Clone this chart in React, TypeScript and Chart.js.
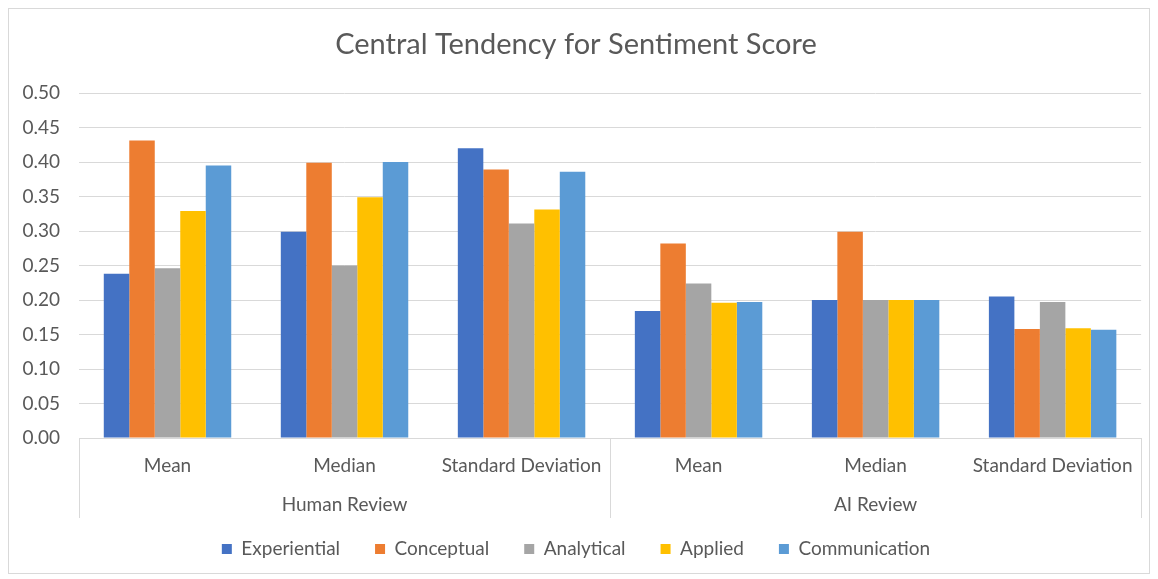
import React, { useEffect, useRef } from "react";
import { Chart, registerables } from "chart.js";

Chart.register(...registerables);

const categories = ["Mean", "Median", "Standard Deviation", "Mean", "Median", "Standard Deviation"];
const groups = ["Human Review", "AI Review"];
const groupSize = 3;
const yTicks = [0, 0.05, 0.1, 0.15, 0.2, 0.25, 0.3, 0.35, 0.4, 0.45, 0.5];

const experiential = [0.238, 0.299, 0.42, 0.184, 0.2, 0.205];
const conceptual = [0.431, 0.399, 0.389, 0.282, 0.299, 0.158];
const analytical = [0.246, 0.25, 0.311, 0.224, 0.2, 0.197];
const applied = [0.329, 0.349, 0.331, 0.196, 0.2, 0.159];
const communication = [0.395, 0.4, 0.386, 0.197, 0.2, 0.157];

const seriesNames = ["Experiential", "Conceptual", "Analytical", "Applied", "Communication"];
const seriesValues = [experiential, conceptual, analytical, applied, communication];
const seriesColors = ["#4472C4", "#ED7D31", "#A5A5A5", "#FFC000", "#5B9BD5"];

const FONT = "Lato, 'Open Sans', sans-serif";
const TEXT = "#595959";
const GRID = "#d9d9d9";

const groupPlugin = {
  id: "groupLabels",
  afterDraw(chart: any) {
    const { ctx, chartArea } = chart;
    const x = chart.scales.x;
    const bottom = chartArea.bottom;
    const sepLen = 80;
    ctx.save();
    ctx.strokeStyle = GRID;
    ctx.lineWidth = 1;
    const bounds: number[] = [x.left];
    for (let g = 1; g < groups.length; g++) {
      const a = x.getPixelForValue(g * groupSize - 1);
      const b = x.getPixelForValue(g * groupSize);
      bounds.push((a + b) / 2);
    }
    bounds.push(x.right);
    bounds.forEach((bx) => {
      const px = Math.round(bx) + 0.5;
      ctx.beginPath();
      ctx.moveTo(px, bottom);
      ctx.lineTo(px, bottom + sepLen);
      ctx.stroke();
    });
    ctx.fillStyle = TEXT;
    ctx.font = `19px ${FONT}`;
    ctx.textAlign = "center";
    ctx.textBaseline = "middle";
    groups.forEach((g, i) => {
      const cx = (bounds[i] + bounds[i + 1]) / 2;
      ctx.fillText(g, cx, bottom + 67);
    });
    ctx.restore();
  },
};

export default function App() {
  const ref = useRef<HTMLCanvasElement>(null);
  useEffect(() => {
    if (!ref.current) return;
    const chart = new Chart(ref.current, {
      type: "bar",
      data: {
        labels: categories,
        datasets: seriesNames.map((n, i) => ({
          label: n,
          data: seriesValues[i],
          backgroundColor: seriesColors[i],
          borderWidth: 0,
          categoryPercentage: 0.72,
          barPercentage: 1,
        })),
      },
      options: {
        animation: false,
        responsive: true,
        maintainAspectRatio: false,
        layout: { padding: { left: 0, right: 6, top: 0, bottom: 4.5 } },
        plugins: {
          title: {
            display: true,
            text: "Central Tendency for Sentiment Score",
            color: TEXT,
            font: { family: FONT, size: 29, weight: "normal" },
            padding: { top: 18.6, bottom: 30.6 },
          },
          legend: {
            position: "bottom",
            labels: {
              color: TEXT,
              font: { family: FONT, size: 19 },
              boxWidth: 10,
              boxHeight: 10,
              padding: 35,
            },
          },
          tooltip: { enabled: false },
        },
        scales: {
          y: {
            min: 0,
            max: 0.5,
            afterBuildTicks: (scale: any) => {
              scale.ticks = yTicks.map((v) => ({ value: v }));
            },
            afterFit: (scale: any) => {
              scale.width = 70;
            },
            ticks: {
              color: TEXT,
              font: { family: FONT, size: 19 },
              padding: 19,
              callback: (v: any) => Number(v).toFixed(2),
            },
            grid: { color: GRID, drawTicks: false },
            border: { display: false },
          },
          x: {
            afterFit: (scale: any) => {
              scale.height = 66.5;
            },
            ticks: {
              color: TEXT,
              font: { family: FONT, size: 19 },
              padding: 16,
              maxRotation: 0,
              autoSkip: false,
            },
            grid: { display: false, drawTicks: false },
            border: { display: true, color: GRID },
          },
        },
      },
      plugins: [groupPlugin],
    });
    return () => chart.destroy();
  }, []);

  return (
    <div
      style={{
        position: "relative",
        width: 1140,
        height: 564,
        border: `1px solid ${GRID}`,
        background: "#fff",
      }}
    >
      <canvas ref={ref} />
    </div>
  );
}
